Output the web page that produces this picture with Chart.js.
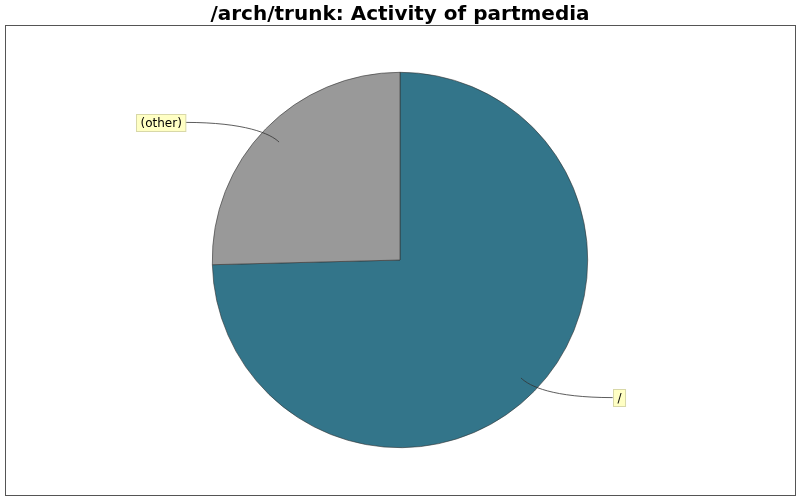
<!DOCTYPE html>
<html>
<head>
<meta charset="utf-8">
<script src="https://cdn.jsdelivr.net/npm/chart.js@4"></script>
<style>
  html, body { margin: 0; padding: 0; background: #fff; }
  #wrap { width: 800px; height: 500px; }
</style>
</head>
<body>
<div id="wrap"><canvas id="pieChart" width="800" height="500"></canvas></div>
<script>
// Chart data
const labels = ['/', '(other)'];
const values = [74.6, 25.4];
const colors = ['#33758a', '#999999'];
const titleText = '/arch/trunk: Activity of partmedia';

// Title, plot frame and the yellow link labels
const decorPlugin = {
  id: 'decor',
  beforeDraw(chart) {
    const ctx = chart.ctx;
    ctx.save();
    ctx.fillStyle = '#fff';
    ctx.fillRect(0, 0, chart.width, chart.height);
    ctx.strokeStyle = '#555';
    ctx.lineWidth = 1;
    ctx.strokeRect(5.5, 25.5, 790, 470);
    ctx.fillStyle = '#000';
    ctx.font = 'bold 20px "DejaVu Sans"';
    ctx.textAlign = 'center';
    ctx.textBaseline = 'alphabetic';
    ctx.fillText(titleText, 400, 20);
    ctx.restore();
  },
  afterDatasetsDraw(chart) {
    const ctx = chart.ctx;
    const arcs = chart.getDatasetMeta(0).data;
    ctx.save();
    ctx.font = '12px "DejaVu Sans"';
    arcs.forEach((arc, i) => {
      const p = arc.getProps(['x', 'y', 'startAngle', 'endAngle', 'outerRadius'], true);
      const mid = (p.startAngle + p.endAngle) / 2;
      const r = p.outerRadius;
      const cos = Math.cos(mid), sin = Math.sin(mid);
      const ax = p.x + cos * r * 0.9;
      const ay = p.y + sin * r * 0.9;
      const ly = p.y + sin * r * 1.05;
      const right = cos >= 0;
      const lx = right ? p.x + r + 25 : p.x - r - 27;
      // link curve
      ctx.strokeStyle = '#333';
      ctx.lineWidth = 0.8;
      ctx.beginPath();
      ctx.moveTo(ax, ay);
      ctx.bezierCurveTo(ax + cos * 12, ay + sin * 12, lx + (right ? -60 : 60), ly, lx, ly);
      ctx.stroke();
      // label box
      const tw = ctx.measureText(labels[i]).width;
      const bw = tw + 8, bh = 17;
      const bx = right ? lx : lx - bw;
      const by = Math.round(ly - bh / 2) + 0.5;
      ctx.fillStyle = '#ffffc4';
      ctx.fillRect(Math.round(bx) + 0.5, by, bw, bh);
      ctx.strokeStyle = '#d8d8a8';
      ctx.lineWidth = 1;
      ctx.strokeRect(Math.round(bx) + 0.5, by, bw, bh);
      ctx.fillStyle = '#000';
      ctx.textAlign = 'left';
      ctx.textBaseline = 'middle';
      ctx.fillText(labels[i], Math.round(bx) + 4.5, by + bh / 2 + 0.5);
    });
    ctx.restore();
  }
};

new Chart(document.getElementById('pieChart'), {
  type: 'pie',
  data: {
    labels: labels,
    datasets: [{
      data: values,
      backgroundColor: colors,
      borderColor: '#333',
      borderWidth: 0.6
    }]
  },
  options: {
    responsive: false,
    animation: false,
    layout: { padding: { top: 72, bottom: 52, left: 0, right: 0 } },
    plugins: {
      legend: { display: false },
      title: { display: false },
      tooltip: { enabled: false }
    }
  },
  plugins: [decorPlugin]
});
</script>
</body>
</html>
